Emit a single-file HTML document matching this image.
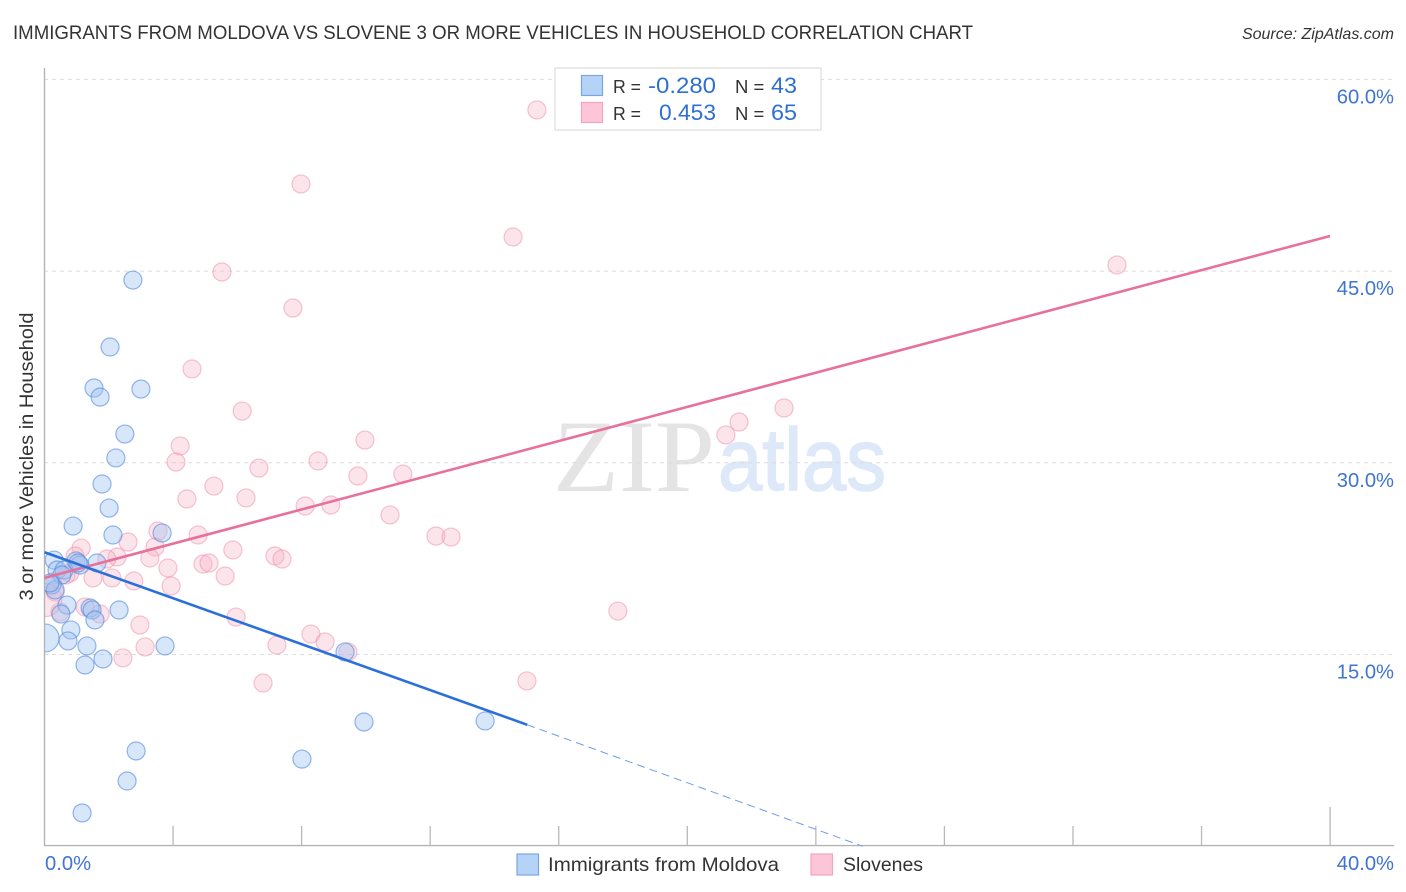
<!DOCTYPE html>
<html>
<head>
<meta charset="utf-8">
<style>
html,body{margin:0;padding:0;background:#fff;width:1406px;height:892px;overflow:hidden}
svg{display:block;font-family:"Liberation Sans",sans-serif}
</style>
</head>
<body>
<svg id="chart" width="1406" height="892" viewBox="0 0 1406 892" xmlns="http://www.w3.org/2000/svg">
<defs><clipPath id="plot-clip"><rect x="45" y="60" width="1350" height="786"/></clipPath></defs>
<rect x="0" y="0" width="1406" height="892" fill="#ffffff"/>
<text x="13" y="39" font-size="19.5" fill="#333333" textLength="960" lengthAdjust="spacingAndGlyphs">IMMIGRANTS FROM MOLDOVA VS SLOVENE 3 OR MORE VEHICLES IN HOUSEHOLD CORRELATION CHART</text>
<text x="1394" y="39" font-size="16" font-style="italic" fill="#333333" text-anchor="end">Source: ZipAtlas.com</text>
<g>
<text x="553" y="491" font-family="'Liberation Serif',serif" font-size="103" fill="#e4e4e4" textLength="162" lengthAdjust="spacingAndGlyphs">ZIP</text>
<text x="718" y="490" font-size="88" fill="#dde8f9" stroke="#dde8f9" stroke-width="1.5" textLength="168" lengthAdjust="spacingAndGlyphs">atlas</text>
</g>
<g id="grid"></g>
<g id="axes"></g>
<g id="points" clip-path="url(#plot-clip)"></g>
<g id="trends"></g>
<text transform="translate(33,456.5) rotate(-90)" font-size="19" fill="#333333" text-anchor="middle" textLength="288" lengthAdjust="spacingAndGlyphs">3 or more Vehicles in Household</text>
<g>
<rect x="555" y="68" width="266" height="62" fill="#ffffff" stroke="#dddddd" stroke-width="1.2"/>
<rect x="581.5" y="75.5" width="21" height="20" fill="#b5d2f7" stroke="#79a6e3" stroke-width="1.2"/>
<rect x="581.5" y="102.5" width="21" height="20" fill="#fcc6d8" stroke="#f1a5bf" stroke-width="1.2"/>
<text x="613" y="93" font-size="18.5" fill="#333333" textLength="28" lengthAdjust="spacingAndGlyphs">R =</text>
<text x="648" y="93" font-size="22" fill="#2f6fd0" textLength="68" lengthAdjust="spacingAndGlyphs">-0.280</text>
<text x="735" y="93" font-size="18.5" fill="#333333">N =</text>
<text x="771" y="93" font-size="22" fill="#2f6fd0" textLength="26" lengthAdjust="spacingAndGlyphs">43</text>
<text x="613" y="120" font-size="18.5" fill="#333333" textLength="28" lengthAdjust="spacingAndGlyphs">R =</text>
<text x="659" y="120" font-size="22" fill="#2f6fd0" textLength="57" lengthAdjust="spacingAndGlyphs">0.453</text>
<text x="735" y="120" font-size="18.5" fill="#333333">N =</text>
<text x="771" y="120" font-size="22" fill="#2f6fd0" textLength="26" lengthAdjust="spacingAndGlyphs">65</text>
</g>
<g>
<rect x="517" y="854" width="21.5" height="21" fill="#b5d2f7" stroke="#79a6e3" stroke-width="1.2"/>
<text x="548" y="871" font-size="19.5" fill="#333333" textLength="231" lengthAdjust="spacingAndGlyphs">Immigrants from Moldova</text>
<rect x="811" y="854" width="21.5" height="21" fill="#fcc6d8" stroke="#f1a5bf" stroke-width="1.2"/>
<text x="843" y="871" font-size="19.5" fill="#333333" textLength="80" lengthAdjust="spacingAndGlyphs">Slovenes</text>
</g>
</svg>
<script>
const xTickValues = [0, 4, 8, 12, 16, 20, 24, 28, 32, 36, 40];
const xEdgeLabels = ["0.0%", "40.0%"];
const yTickValues = [15, 30, 45, 60];
const yTickLabels = ["15.0%", "30.0%", "45.0%", "60.0%"];
const moldovaX = [2.75,2.04,1.54,3.00,1.73,2.50,2.22,1.79,2.01,0.89,2.13,3.66,0.30,0.39,1.63,0.98,1.10,0.61,0.54,0.23,0.33,0.70,1.42,1.48,2.32,0.51,1.57,0.82,0.73,1.32,3.75,1.82,1.26,9.35,9.94,13.71,2.85,8.01,2.57,1.17,1.04,0.17,0.02];
const moldovaY = [44.3,39.06,35.85,35.77,35.14,32.25,30.38,28.34,26.46,25.05,24.35,24.51,22.39,21.61,22.16,22.32,22.0,21.61,21.22,20.44,20.05,18.87,18.64,18.48,18.48,18.17,17.7,16.92,16.06,15.67,15.67,14.65,14.18,15.2,9.72,9.8,7.45,6.82,5.1,2.6,22.16,20.6,16.29];
const moldovaWeight = [1,1,1,1,1,1,1,1,1,1,1,1,1,1,1,1,1,1,1,1,1,1,1,1,1,1,1,1,1,1,1,1,1,1,1,1,1,1,1,1,1,1,2.4];
const sloveneX = [15.32,7.98,14.58,33.37,5.52,7.73,4.59,6.15,23.01,21.61,21.2,4.22,4.09,9.97,8.51,6.67,9.75,11.15,5.27,4.43,6.27,8.11,8.91,10.75,3.53,4.78,12.18,12.65,2.6,1.14,3.44,5.86,0.95,2.26,1.94,3.28,7.17,7.39,4.93,5.12,3.84,5.62,0.79,1.51,2.1,2.78,3.94,0.26,0.33,1.26,1.73,0.48,17.84,5.96,2.97,8.29,3.13,7.23,8.73,9.44,2.44,6.8,15.01,0.02,0.67];
const sloveneY = [57.61,51.82,47.67,45.48,44.93,42.11,37.34,34.05,34.29,33.19,32.18,31.32,30.06,31.78,30.14,29.59,28.97,29.12,28.18,27.17,27.25,26.62,26.7,25.92,24.66,24.35,24.27,24.19,23.8,23.33,23.41,23.18,22.71,22.63,22.47,22.55,22.71,22.47,22.08,22.16,21.77,21.14,21.38,20.99,20.99,20.75,20.36,20.67,19.89,18.72,18.17,18.33,18.4,17.93,17.31,16.6,15.59,15.74,15.98,15.2,14.73,12.77,12.93,19.26,21.22];
const sloveneWeight = [1,1,1,1,1,1,1,1,1,1,1,1,1,1,1,1,1,1,1,1,1,1,1,1,1,1,1,1,1,1,1,1,1,1,1,1,1,1,1,1,1,1,1,1,1,1,1,1,1,1,1,1,1,1,1,1,1,1,1,1,1,1,1,3.4,1];
const moldovaTrendX = [0, 15.02];
const moldovaTrendY = [23.0, 9.5];
const moldovaDashX = [15.02, 25.45];
const moldovaDashY = [9.5, 0];
const sloveneTrendX = [0, 40];
const sloveneTrendY = [21.0, 47.75];

const NS = 'http://www.w3.org/2000/svg';
const xScale = v => 44.5 + v * 32.14;
const yScale = v => 846.2 - v * 12.78;
const rScale = w => 9 * Math.sqrt(w);
function make(tag, parent, attrs) {
  const el = document.createElementNS(NS, tag);
  for (const k in attrs) el.setAttribute(k, attrs[k]);
  parent.appendChild(el);
  return el;
}
const grid = document.getElementById('grid');
const axes = document.getElementById('axes');
const points = document.getElementById('points');
const trends = document.getElementById('trends');

yTickValues.forEach((v, i) => {
  const line = make('line', grid, {x1: 44, x2: 1394, y1: yScale(v), y2: yScale(v), stroke: '#dcdcdc', 'stroke-width': 1, 'stroke-dasharray': '4 4'});
  
  
  const label = make('text', axes, {x: 1394, y: yScale(v) + 24, 'font-size': 20.2, fill: '#3f74d2', 'text-anchor': 'end'});
  label.textContent = yTickLabels[i];
  
  
});

const yAxis = make('line', axes, {x1: 44.5, x2: 44.5, y1: 68, y2: 846, stroke: '#b4b4b4', 'stroke-width': 1.4});


const xAxis = make('line', axes, {x1: 44, x2: 1394, y1: 845.6, y2: 845.6, stroke: '#b4b4b4', 'stroke-width': 1.4});



xTickValues.forEach((v, i) => {
  if (i === 0) return;
  const last = i === xTickValues.length - 1;
  const tick = make('line', axes, {x1: xScale(v), x2: xScale(v), y1: last ? 807 : 826, y2: 846, stroke: '#b8b8b8', 'stroke-width': 1.3});
  
  
});

const xLabelLeft = make('text', axes, {x: 45, y: 870, 'font-size': 20.2, fill: '#3f74d2'});
xLabelLeft.textContent = xEdgeLabels[0];


const xLabelRight = make('text', axes, {x: 1394, y: 870, 'font-size': 20.2, fill: '#3f74d2', 'text-anchor': 'end'});
xLabelRight.textContent = xEdgeLabels[1];



sloveneX.forEach((v, i) => {
  const dot = make('circle', points, {cx: xScale(v), cy: yScale(sloveneY[i]), r: rScale(sloveneWeight[i]), fill: 'rgba(248,180,200,0.36)', stroke: 'rgba(236,140,170,0.5)', 'stroke-width': 1.2});
  
  
});
moldovaX.forEach((v, i) => {
  const dot = make('circle', points, {cx: xScale(v), cy: yScale(moldovaY[i]), r: rScale(moldovaWeight[i]), fill: 'rgba(160,195,240,0.42)', stroke: 'rgba(80,135,220,0.6)', 'stroke-width': 1.2});
  
  
});

const sloveneLine = make('line', trends, {x1: xScale(sloveneTrendX[0]), y1: yScale(sloveneTrendY[0]), x2: xScale(sloveneTrendX[1]), y2: yScale(sloveneTrendY[1]), stroke: '#e8709c', 'stroke-width': 2.6});


const moldovaLine = make('line', trends, {x1: xScale(moldovaTrendX[0]), y1: yScale(moldovaTrendY[0]), x2: xScale(moldovaTrendX[1]), y2: yScale(moldovaTrendY[1]), stroke: '#2b70da', 'stroke-width': 2.6});


const moldovaDash = make('line', trends, {x1: xScale(moldovaDashX[0]), y1: yScale(moldovaDashY[0]), x2: xScale(moldovaDashX[1]), y2: yScale(moldovaDashY[1]), stroke: '#6d9ce3', 'stroke-width': 1, 'stroke-dasharray': '8 5'});


</script>
</body>
</html>
